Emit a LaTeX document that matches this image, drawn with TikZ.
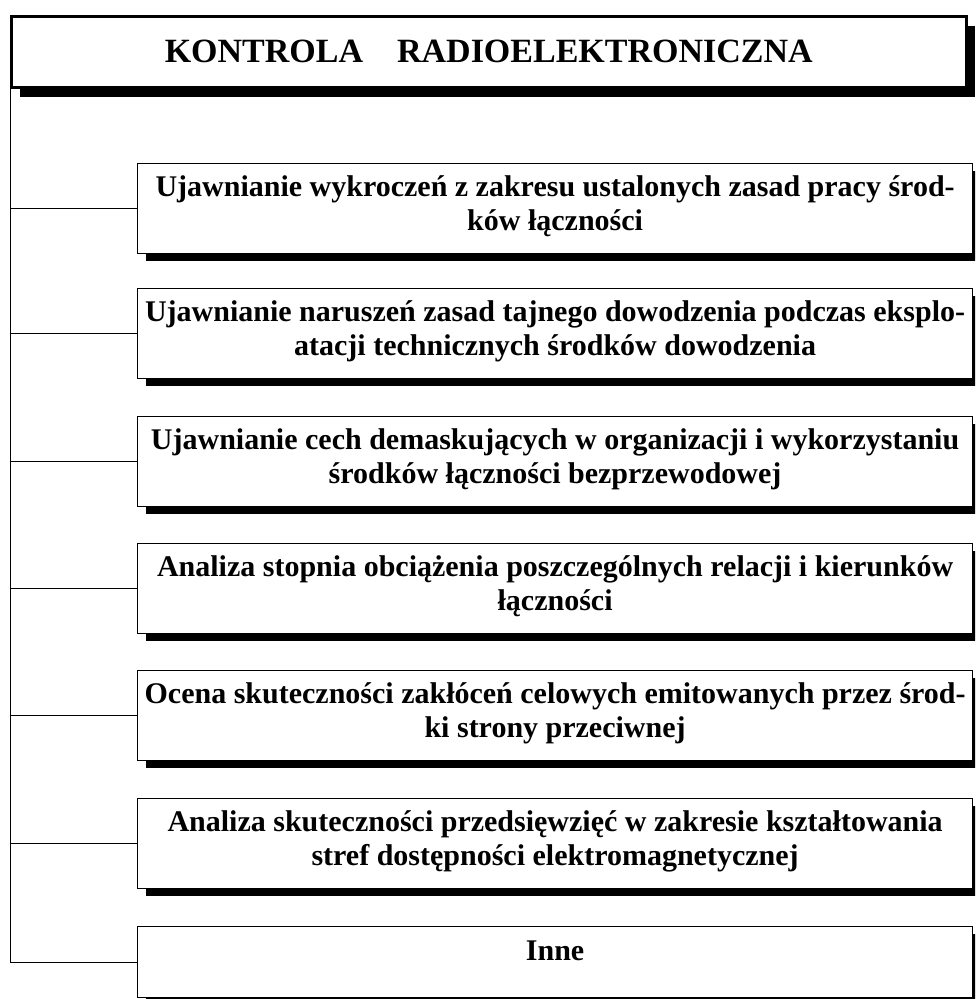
\documentclass[tikz,border=0pt]{standalone}
\usepackage{fontspec}
\setmainfont{Liberation Serif}
\usetikzlibrary{shadows}
\begin{document}
\begin{tikzpicture}[x=1pt,y=1pt,
  titlebox/.style={draw, line width=2.5pt, fill=white, inner sep=0pt,
    minimum width=955pt, minimum height=71pt, anchor=north west,
    font=\bfseries\fontsize{34}{40}\selectfont,
    drop shadow={shadow xshift=9pt, shadow yshift=-10pt, opacity=1, fill=black}},
  itembox/.style={draw, line width=1.2pt, fill=white, inner sep=0pt,
    minimum width=835pt, minimum height=90pt, anchor=north west,
    drop shadow={shadow xshift=8pt, shadow yshift=-7pt, opacity=1, fill=black}},
  itemtext/.style={font=\bfseries\fontsize{30}{34}\selectfont, align=center,
    anchor=base, inner sep=0pt},
  link/.style={line width=1pt}]
\useasboundingbox (0,0) rectangle (975,-999);
\clip (0,0) rectangle (975,-999);
\fill[white] (0,0) rectangle (975,-999);

\node[titlebox] (top) at (10,-15) {KONTROLA\hspace{1em}RADIOELEKTRONICZNA};

\node[itembox] (b1) at (137,-163) {};
\node[itembox] (b2) at (137,-288) {};
\node[itembox] (b3) at (137,-416) {};
\node[itembox] (b4) at (137,-543) {};
\node[itembox] (b5) at (137,-670) {};
\node[itembox] (b6) at (137,-798) {};
\node[itembox, minimum height=71pt] (b7) at (137,-926) {};

\node[itemtext] (t1) at ([yshift=-67pt]b1.north) {Ujawnianie wykroczeń z zakresu ustalonych zasad pracy środ-\\ków łączności};
\node[itemtext] (t2) at ([yshift=-67pt]b2.north) {Ujawnianie naruszeń zasad tajnego dowodzenia podczas eksplo-\\atacji technicznych środków dowodzenia};
\node[itemtext] (t3) at ([yshift=-67pt]b3.north) {Ujawnianie cech demaskujących w organizacji i wykorzystaniu\\środków łączności bezprzewodowej};
\node[itemtext] (t4) at ([yshift=-67pt]b4.north) {Analiza stopnia obciążenia poszczególnych relacji i kierunków\\łączności};
\node[itemtext] (t5) at ([yshift=-67pt]b5.north) {Ocena skuteczności zakłóceń celowych emitowanych przez środ-\\ki strony przeciwnej};
\node[itemtext] (t6) at ([yshift=-67pt]b6.north) {Analiza skuteczności przedsięwzięć w zakresie kształtowania\\stref dostępności elektromagnetycznej};
\node[itemtext] (t7) at ([yshift=-34pt]b7.north) {Inne};

\draw[link] (top.south west) -- (top.south west |- b7.west) -- (b7.west);
\foreach \b in {b1,b2,b3,b4,b5,b6}
  \draw[link] (top.south west |- \b.west) -- (\b.west);
\end{tikzpicture}
\end{document}
